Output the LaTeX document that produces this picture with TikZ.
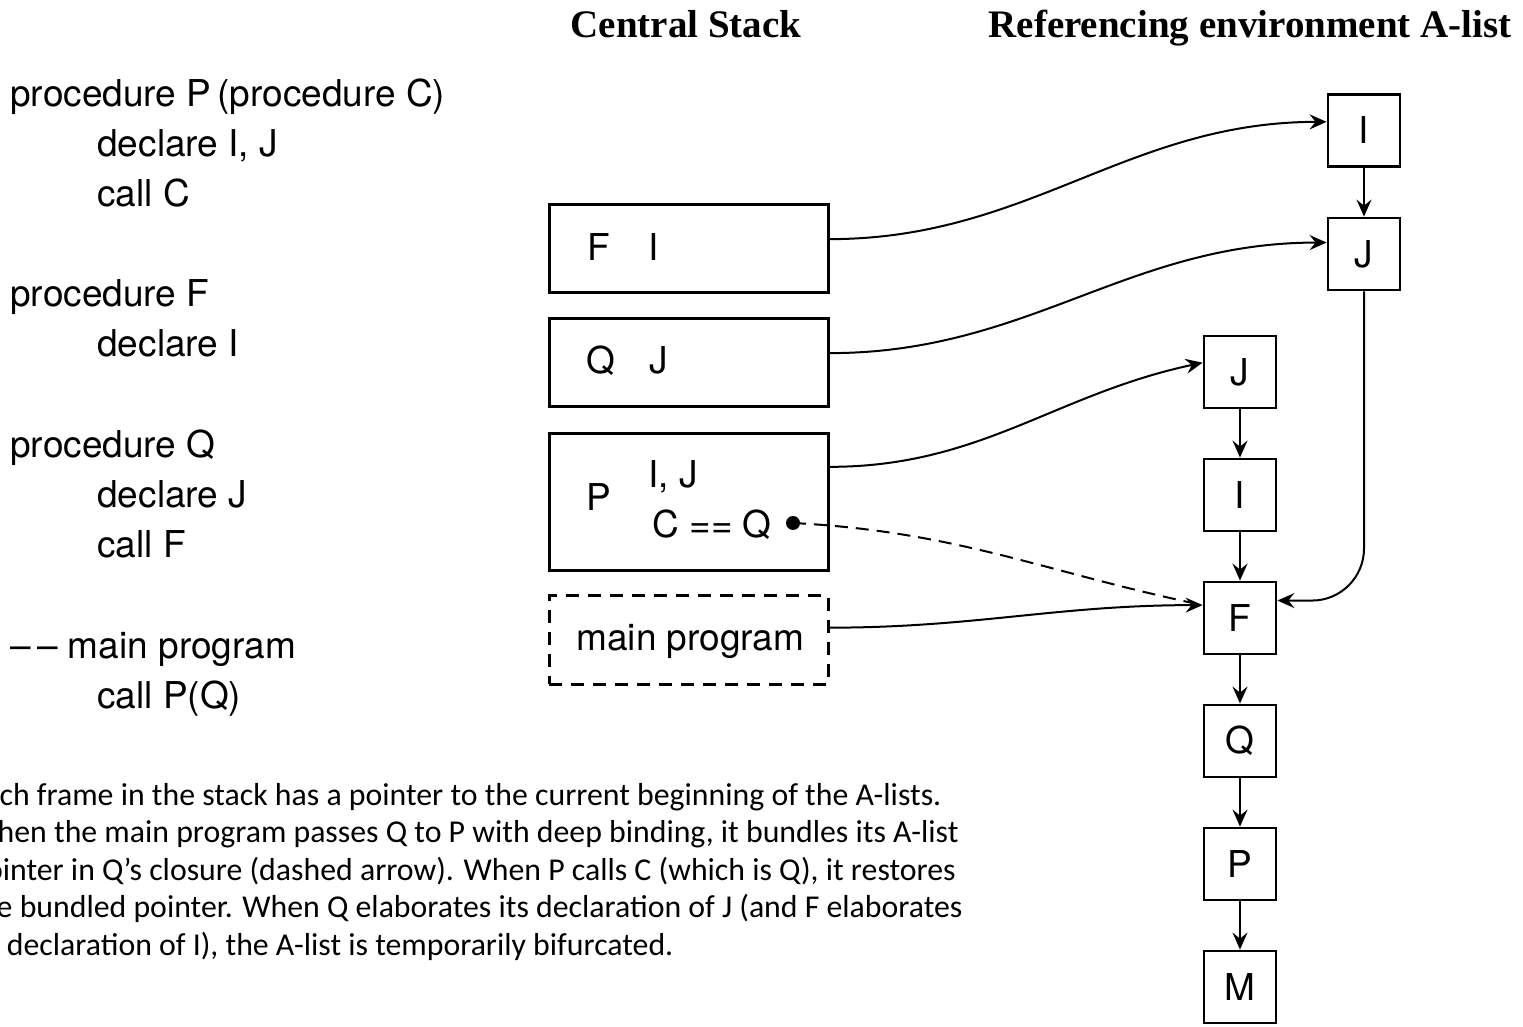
\documentclass[tikz,border=0pt]{standalone}
\usepackage{fontspec}
\setmainfont{TeX Gyre Heros}
\newfontfamily\titrefont{Liberation Serif}
\newfontfamily\notefont{Carlito}
\usetikzlibrary{arrows.meta}

\tikzset{
  frame/.style={draw,line width=1.5pt,minimum width=139.5pt,minimum height=44pt,inner sep=0pt},
  cell/.style={draw,line width=1.4pt,minimum size=36pt,inner sep=0pt,font=\fontsize{18.5}{22}\selectfont},
  txt/.style={anchor=base west,inner sep=0pt,font=\fontsize{18.5}{22}\selectfont},
  note/.style={anchor=base west,inner sep=0pt,font=\notefont\fontsize{15.9}{19}\selectfont},
  titre/.style={anchor=base,inner sep=0pt,font=\titrefont\bfseries\fontsize{19.5}{23}\selectfont},
  link/.style={-{Stealth[length=8.5pt,width=7.5pt,inset=3pt]},line width=1pt},
}

\begin{document}
\begin{tikzpicture}[x=0.5pt,y=-0.5pt]
    \useasboundingbox (0,0) rectangle (1523,1027);
    \pgfmathsetmacro{\colG}{1240}   % colonne gauche de la liste A
    \pgfmathsetmacro{\colD}{1364}   % colonne droite
    \pgfmathsetmacro{\yG}{372}      % premier bloc à gauche
    \pgfmathsetmacro{\pas}{123}     % pas vertical entre blocs

    % Titres
    \node[titre] (tStack) at (686,38) {Central Stack};
    \node[titre] (tList) at (1250,38) {Referencing environment A-list};

    % Programme
    \foreach \x/\y/\ligne [count=\i] in {10/107/{procedure P\,(procedure C)},
        97/157/{declare I, J}, 97/207/{call C},
        10/307/{procedure F}, 97/357/{declare I},
        10/458/{procedure Q}, 97/508/{declare J}, 97/558/{call F},
        10/659/{\textendash\,\textendash\ main program}, 97/708/{call P(Q)}}{
        \node[txt] (code\i) at (\x,\y) {\ligne};
    }

    % Pile centrale
    \node[frame] (fi) at (688.5,249) {};
    \node[frame] (qj) at (688.5,363) {};
    \node[frame,minimum height=68.5pt] (pb) at (688.5,502) {};
    \node[frame,dashed,dash pattern=on 6.5pt off 4.5pt] (mp) at (688.5,640) {};
    \node[txt] (fiF) at (587,261) {F};
    \node[txt] (fiI) at (648,261) {I};
    \node[txt] (qjQ) at (586,374) {Q};
    \node[txt] (qjJ) at (649,374) {J};
    \node[txt] (pbP) at (586,510) {P};
    \node[txt] (pbIJ) at (648,488) {I, J};
    \node[txt] (pbCQ) at (652,538) {C == Q};
    \node[txt] (mpT) at (576,650) {main program};
    \coordinate (ptr) at (793,523);

    % Liste A
    \node[cell] (aI) at (\colD,130.5) {I};
    \node[cell] (aJ) at (\colD,254) {J};
    \foreach \lab/\nom [count=\k from 0] in {J/lJ,I/lI,F/lF,Q/lQ,P/lP,M/lM}{
        \node[cell] (\nom) at (\colG,{\yG+\k*\pas}) {\lab};
    }
    \foreach \a/\b in {aI/aJ,lJ/lI,lI/lF,lF/lQ,lQ/lP,lP/lM}
        \draw[link] (\a) -- (\b);
    \draw[link,rounded corners=26pt] (aJ.south) |- (lF.25);

    % Pointeurs
    \draw[link] (fi.4.5) to[out=0,in=180] (aI.167);
    \draw[link] (qj.4) to[out=0,in=180] (aJ.163);
    \draw[link] (pb.14.6) to[out=0,in=192] (lJ.166);
    \draw[link] (mp.5.3) to[out=0,in=180] (lF.161);
    \draw[line width=1pt,dash pattern=on 6.5pt off 4pt,shorten >=4pt] (ptr) to[out=-3,in=168] (lF.161);
    \fill (ptr) circle[radius=3.5pt];

    % Note
    \foreach \ligne [count=\i from 0] in {{Each frame in the stack has a pointer to the current beginning of the A-lists.},
        {When the main program passes Q to P with deep binding, it bundles its A-list},
        {pointer in Q’s closure (dashed arrow). When P calls C (which is Q), it restores},
        {the bundled pointer. When Q elaborates its declaration of J (and F elaborates},
        {its declaration of I), the A-list is temporarily bifurcated.}}{
        \node[note] (note\i) at (-31,{805+\i*37.5}) {\ligne};
    }
\end{tikzpicture}
\end{document}
